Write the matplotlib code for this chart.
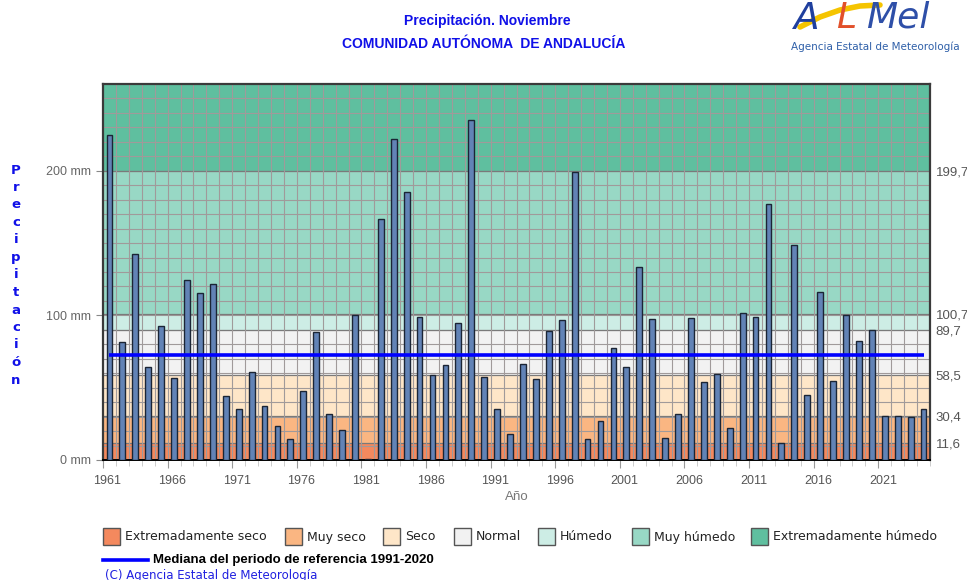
import matplotlib
matplotlib.use("Agg")
import matplotlib.pyplot as plt
import numpy as np
from matplotlib.patches import Rectangle
from matplotlib.lines import Line2D
from matplotlib.transforms import ScaledTranslation

# November precipitation, Andalucía (mm)
years = np.arange(1961, 2025)
precip = [
    224.6, 81.6, 142.3, 64.1, 92.4, 56.8, 124.6, 115.4, 121.4, 44.4,
    35.6, 60.9, 37.2, 23.4, 14.5, 47.8, 88.7, 31.5, 20.5, 100.5,
    0.6, 166.7, 221.8, 185.1, 98.6, 58.6, 66.0, 94.7, 234.9, 57.7,
    35.6, 17.7, 66.2, 55.9, 89.2, 96.6, 199.3, 14.7, 26.9, 77.7,
    64.4, 133.3, 97.2, 15.4, 31.5, 97.9, 53.6, 59.8, 22.3, 101.4,
    99.1, 177.2, 11.5, 148.5, 44.8, 116.1, 54.7, 100.2, 82.5, 89.9,
    30.1, 30.6, 29.7, 35.6,
]
thresholds = [11.6, 30.4, 58.5, 89.7, 100.7, 199.7]
median_ref = 72.4
categories = ["Extremadamente seco", "Muy seco", "Seco", "Normal",
              "Húmedo", "Muy húmedo", "Extremadamente húmedo"]
band_colors = ["#F4895E", "#FAB682", "#FEE6C8", "#F2F2F2",
               "#CDEDE5", "#98D8C5", "#5FBF9F"]
left_ticks = [0, 100, 200]
year_ticks = np.arange(1961, 2025, 5)

W, H = 967, 580
fig = plt.figure(figsize=(W / 100, H / 100), dpi=100)
ax = fig.add_axes([103 / W, 120 / H, 827 / W, 376 / H])
ymax = 260
ax.set_xlim(1960.5, 2024.5)
ax.set_ylim(0, ymax)

# category bands
edges = [0] + thresholds + [ymax]
for lo, hi, c in zip(edges[:-1], edges[1:], band_colors):
    ax.axhspan(lo, hi, color=c, lw=0, zorder=0)

# grid
ax.hlines(np.arange(10, ymax, 10), 1960.5, 2024.5, color="#a09a9a", lw=0.8, zorder=1)
ax.hlines(thresholds, 1960.5, 2024.5, color="#7a7a7a", lw=0.9, zorder=1)
ax.vlines(years + 0.5, 0, ymax, color="#a09a9a", lw=0.8, zorder=1)

ax.bar(years, precip, width=0.45, color="#6283B6", edgecolor="#1b2535", lw=1, zorder=3)
ax.hlines(median_ref, years[0], years[-1], color="#0000FF", lw=2.6, zorder=4)

# axes styling
for side in ["top", "left", "right"]:
    ax.spines[side].set_color("#3a3a3a")
    ax.spines[side].set_linewidth(1.6)
ax.spines["bottom"].set_color("#000000")
ax.spines["bottom"].set_linewidth(1.4)

ax.set_yticks(left_ticks, labels=[f"{v} mm" for v in left_ticks])
ax.set_xticks(year_ticks - 0.5, labels=[str(y) for y in year_ticks])
ax.set_xticks(years + 0.5, minor=True)
ax.tick_params(axis="y", length=5, color="#888888", labelcolor="#666666",
               labelsize=9, pad=4)
ax.tick_params(axis="x", which="major", length=6, color="#999999",
               labelcolor="#555555", labelsize=9, pad=5)
ax.tick_params(axis="x", which="minor", length=4, color="#c4c4c4")
shift = ScaledTranslation(4.5 / 100, 0, fig.dpi_scale_trans)
for lab in ax.get_xticklabels():
    lab.set_family("Liberation Sans")
    lab.set_transform(lab.get_transform() + shift)
for lab in ax.get_yticklabels():
    lab.set_family("Liberation Sans")
ax.set_xlabel("Año", color="#777777", fontsize=9.5, labelpad=3, family="Liberation Sans")

ax2 = ax.twinx()
ax2.set_ylim(0, ymax)
ax2.set_yticks(thresholds, labels=[f"{t:.1f}".replace(".", ",") for t in thresholds])
ax2.tick_params(axis="y", length=0, labelcolor="#555555", labelsize=9.5, pad=4)
for lab in ax2.get_yticklabels():
    lab.set_family("Liberation Sans")
for s in ax2.spines.values():
    s.set_visible(False)

# titles
blue = "#1010E8"
fig.text(487 / W, 1 - 21 / H, "Precipitación. Noviembre", ha="center", va="center",
         color=blue, fontsize=10, fontweight="bold", family="Liberation Sans")
fig.text(484 / W, 1 - 44 / H, "COMUNIDAD AUTÓNOMA  DE ANDALUCÍA", ha="center", va="center",
         color=blue, fontsize=10, fontweight="bold", family="Liberation Sans")

# vertical y label, letter by letter
for i, ch in enumerate("Precipitación"):
    fig.text(16 / W, 1 - (170 + i * 17.5) / H, ch, ha="center", va="center",
             color=blue, fontsize=9.5, fontweight="bold", family="DejaVu Sans")

# logo
fig.text(794 / W, 1 - 1 / H, "A", color="#1F3F9E", fontsize=27, style="italic",
         va="top", family="DejaVu Sans")
fig.add_artist(Line2D(np.array([800, 820, 840, 860, 880]) / W,
                      1 - np.array([27, 17, 10, 6, 5]) / H,
                      color="#F5C400", lw=4, transform=fig.transFigure,
                      solid_capstyle="round"))
fig.text(836 / W, 1 - 1 / H, "L", color="#E2502A", fontsize=26, style="italic",
         va="top", family="DejaVu Sans")
fig.text(866 / W, 1 - 1 / H, "Mel", color="#2E4FA8", fontsize=26, style="italic",
         va="top", family="DejaVu Sans")
fig.text(875 / W, 1 - 47 / H, "Agencia Estatal de Meteorología", ha="center", va="center",
         color="#2E5FA8", fontsize=7.5, family="DejaVu Sans")

# legend
box_x = [103, 285, 383, 454, 538, 632, 751]
for x, c, name in zip(box_x, band_colors, categories):
    fig.add_artist(Rectangle((x / W, 1 - 545 / H), 17 / W, 17 / H, facecolor=c,
                             edgecolor="#555555", lw=1, transform=fig.transFigure))
    fig.text((x + 22) / W, 1 - 537 / H, name, va="center", ha="left",
             color="#222222", fontsize=9, family="DejaVu Sans")
fig.add_artist(Line2D([103 / W, 148 / W], [1 - 560 / H, 1 - 560 / H], color="#0000FF",
                      lw=2.6, transform=fig.transFigure))
fig.text(153 / W, 1 - 560 / H, "Mediana del periodo de referencia 1991-2020", va="center",
         color="#000000", fontsize=9.5, fontweight="bold", family="Liberation Sans")
fig.text(105 / W, 1 - 575 / H, "(C) Agencia Estatal de Meteorología", va="center",
         color="#2020E0", fontsize=8.5, family="DejaVu Sans")

fig.savefig("out.png", dpi=100)
